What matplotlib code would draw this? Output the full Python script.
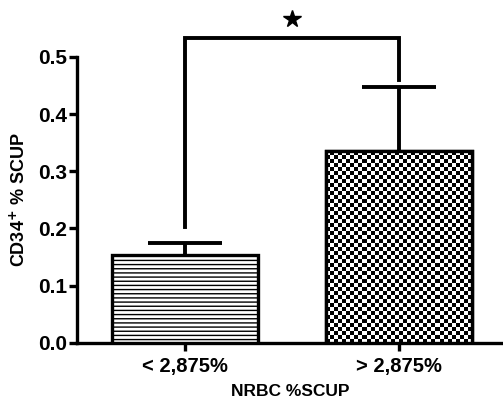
import numpy as np
import matplotlib
matplotlib.use("Agg")
import matplotlib.pyplot as plt

categories = ["< 2,875%", "> 2,875%"]
means = [0.154, 0.335]
errors = [0.021, 0.112]
bracket_left_end = 0.203
bracket_right_end = 0.459
bracket_top = 0.533
star_y = 0.566
yticks = [0.0, 0.1, 0.2, 0.3, 0.4, 0.5]

plt.rcParams['font.family'] = ['Liberation Sans', 'DejaVu Sans']
plt.rcParams['font.weight'] = 'bold'
plt.rcParams['hatch.linewidth'] = 1.0

DPI = 100
fig = plt.figure(figsize=(5.03, 4.03), dpi=DPI)
ax = fig.add_axes([77/503, (403-342.7)/403, 1-77/503, (342.7-57)/403])

x = np.arange(len(categories))
width = 0.68
lw = 2.4
lw2 = 2.8

bars = ax.bar(x, means, width=width, color='white', edgecolor='black', linewidth=lw, zorder=3)
bars[0].set_hatch('----')

eb = ax.errorbar(x, means, yerr=[[0, 0], errors], fmt='none', ecolor='black',
                 elinewidth=lw2, capsize=26.5, capthick=lw2, zorder=2)
caplines = eb[1]
if len(caplines) == 2:
    caplines[0].set_visible(False)

ax.set_xlim(-0.505, 1.486)
ax.set_ylim(0, 0.5)
ax.set_yticks(yticks)
ax.set_yticklabels([f"{v:.1f}" for v in yticks])
ax.set_xticks(x)
ax.set_xticklabels(categories)

for s in ['top', 'right']:
    ax.spines[s].set_visible(False)
for s in ['left', 'bottom']:
    ax.spines[s].set_linewidth(lw)
ax.tick_params(axis='both', direction='out', length=6, width=lw)
ax.tick_params(axis='x', labelsize=14.5, pad=4)
ax.tick_params(axis='y', labelsize=15, pad=1)

ax.set_xlabel("NRBC %SCUP", fontsize=12.5, fontweight='bold', labelpad=6)
ax.set_ylabel("CD34$^{+}$ % SCUP", fontsize=13, fontweight='bold', labelpad=7)

# checkerboard fill for second bar
fig.canvas.draw()
b = bars[1]
x0, y0 = b.get_x(), 0
x1, y1 = b.get_x() + b.get_width(), b.get_height()
p0 = ax.transData.transform((x0, y0))
p1 = ax.transData.transform((x1, y1))
cell = 4.0
nx = int(round((p1[0] - p0[0]) / cell))
ny = int(round((p1[1] - p0[1]) / cell))
checker = (np.indices((ny, nx)).sum(axis=0) % 2).astype(float)
im = ax.imshow(checker, cmap='gray', extent=(x0, x1, y0, y1), origin='lower',
               interpolation='nearest', aspect='auto', zorder=3.5, vmin=0, vmax=1)
im.set_clip_path(b)
ax.bar([x[1]], [means[1]], width=width, color='none', edgecolor='black', linewidth=lw, zorder=4)
ax.set_xlim(-0.505, 1.486)
ax.set_ylim(0, 0.5)

# significance bracket
ax.plot([x[0], x[0], x[1], x[1]], [bracket_left_end, bracket_top, bracket_top, bracket_right_end],
        color='black', lw=lw2, clip_on=False, solid_joinstyle='miter')
ax.plot([(x[0]+x[1])/2], [star_y], marker='*', color='black', markersize=13, clip_on=False)

fig.savefig("out.png", dpi=DPI)
